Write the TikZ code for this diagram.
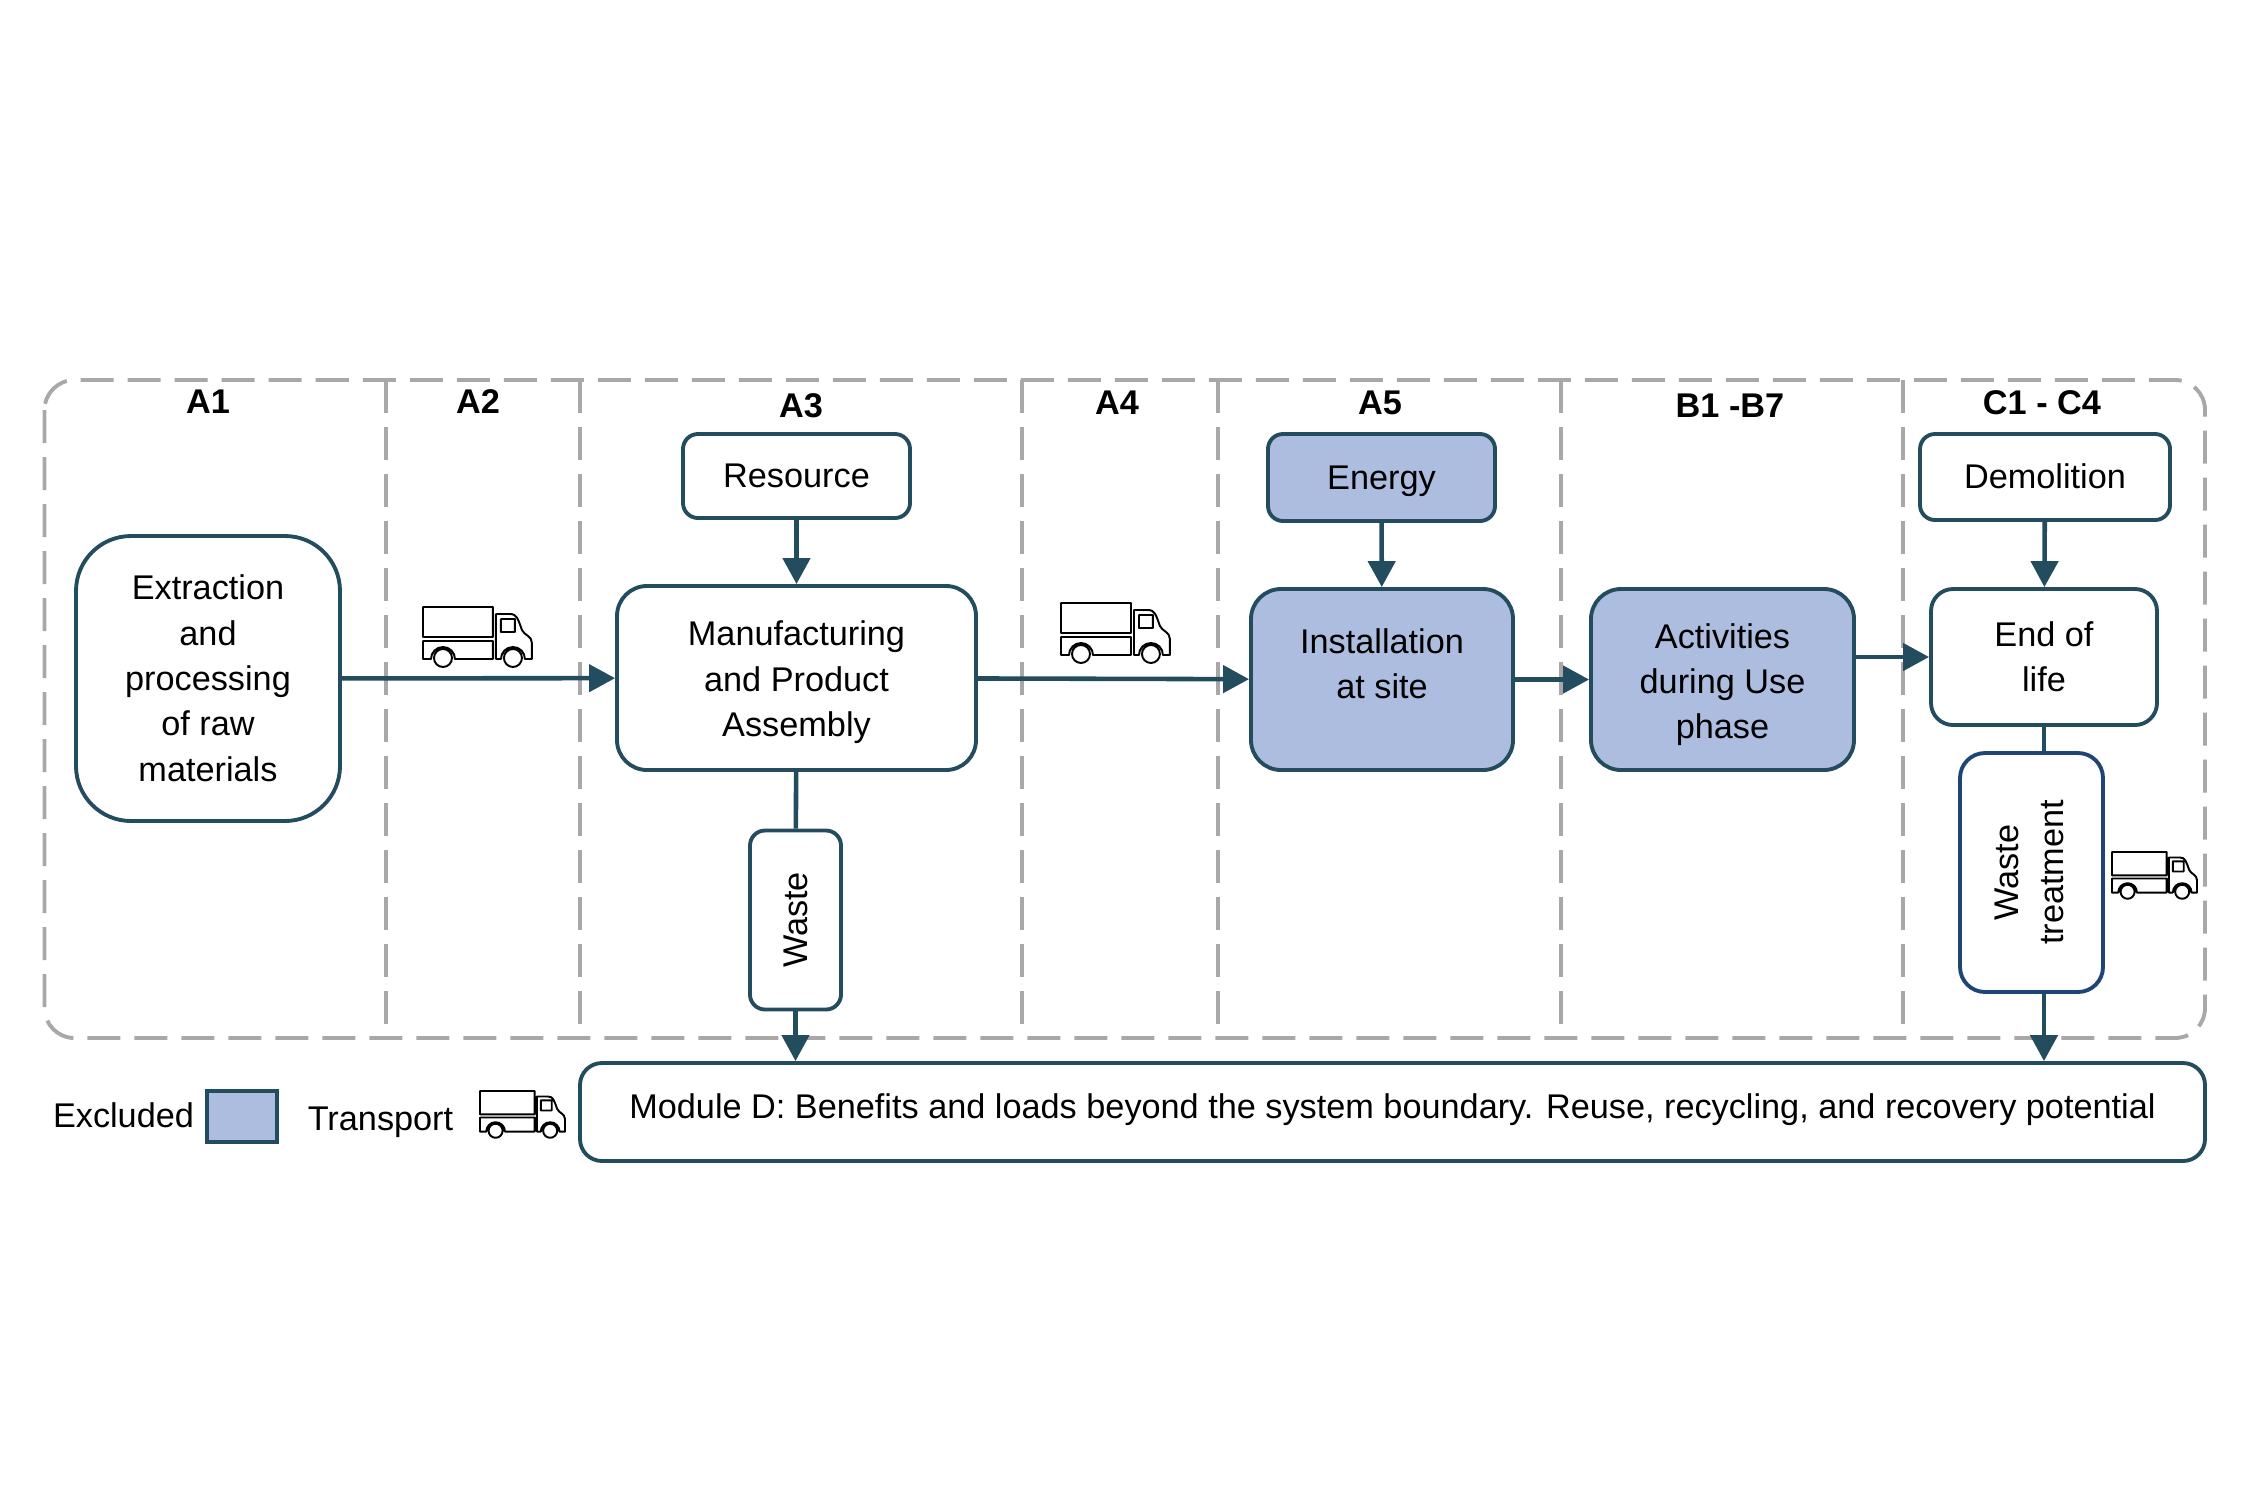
\documentclass[tikz,border=0pt]{standalone}
\usepackage{fontspec}
\setmainfont{Liberation Sans}
\usepackage{tikz}
\usetikzlibrary{arrows.meta}
\definecolor{boxline}{HTML}{234D5E}
\definecolor{wasteline}{HTML}{1F4576}
\definecolor{excl}{HTML}{ADBDE0}
\definecolor{bound}{HTML}{A9A7A7}
\newcommand{\lift}[2]{\raisebox{\dimexpr#1-3.3pt\relax}[0pt][0pt]{\begin{tabular}{@{}c@{}}#2\end{tabular}}}
\tikzstyle{base} = [rectangle, text centered, inner sep=0pt, draw=boxline, line width=1.1pt, font=\fontsize{9.75}{12.9}\selectfont]
\tikzstyle{process} = [base, rounded corners=0.3cm, fill=white]
\tikzstyle{small} = [base, rounded corners=0.15cm, fill=white]
\tikzstyle{excluded} = [process, fill=excl]
\tikzstyle{label} = [font=\fontsize{9.75}{12.9}\selectfont\bfseries]
\tikzstyle{plain} = [font=\fontsize{9.75}{12.9}\selectfont]
\tikzstyle{arrow} = [line width=1.3pt, draw=boxline, -{Triangle[length=0.26cm, width=0.27cm]}]
\tikzstyle{joint} = [line width=1.3pt, draw=boxline]
\tikzstyle{divider} = [line width=1.1pt, draw=bound, dash pattern=on 0.33cm off 0.14cm]
\tikzset{pics/truck/.style={code={
  \draw [line width=0.55pt, line join=round, x=0.01cm, y=-0.01cm]
    (0,0) rectangle (70,30)
    (0,34) -- (70,34) -- (70,52) -- (32,52) arc (0:-180:12) -- (0,52) -- cycle
    (73,52) -- (73,7) -- (87,7) .. controls (94,7) and (95,12) .. (99,23) .. controls (101,28) and (109,29) .. (109,36) -- (109,52) -- (102,52) arc (0:-180:12) -- cycle
    (78,12) rectangle (92,25)
    (20,51) circle (9)
    (90,51) circle (9);
}}}

\begin{document}
\begin{tikzpicture}
\useasboundingbox (0,0) rectangle (22.51,-15);
% system boundary
\draw [divider, rounded corners=0.3cm] (0.445,-3.8) rectangle (22.05,-10.38);
\foreach \x in {3.86,5.8,10.22,12.18,15.61,19.03}
  \draw [divider] (\x,-3.8) -- (\x,-10.28);
% stages
\node (aone) [label] at (2.08,-4.02) {A1};
\node (atwo) [label] at (4.78,-4.02) {A2};
\node (athree) [label] at (8.01,-4.06) {A3};
\node (afour) [label] at (11.17,-4.03) {A4};
\node (afive) [label] at (13.8,-4.03) {A5};
\node (bstage) [label] at (17.3,-4.06) {B1 -B7};
\node (cstage) [label] at (20.42,-4.03) {C1 - C4};
% main row
\node (extract) [process, rounded corners=0.55cm, minimum width=2.64cm, minimum height=2.85cm] at (2.08,-6.785) {\lift{0pt}{Extraction\\and\\processing\\of raw\\materials}};
\node (manuf) [process, minimum width=3.59cm, minimum height=1.84cm] at (7.965,-6.78) {\lift{-0.4pt}{Manufacturing\\and Product\\Assembly}};
\node (install) [excluded, minimum width=2.62cm, minimum height=1.81cm] at (13.82,-6.795) {\lift{4.3pt}{Installation\\at site}};
\node (activity) [excluded, minimum width=2.63cm, minimum height=1.81cm] at (17.225,-6.795) {\lift{-0.6pt}{Activities\\during Use\\phase}};
\node (endlife) [small, rounded corners=0.22cm, minimum width=2.26cm, minimum height=1.36cm] at (20.44,-6.57) {\lift{0pt}{End of\\life}};
% top row
\node (resource) [small, minimum width=2.27cm, minimum height=0.84cm] at (7.965,-4.76) {\lift{0pt}{Resource}};
\node (energy) [small, fill=excl, minimum width=2.27cm, minimum height=0.87cm] at (13.815,-4.775) {\lift{0pt}{Energy}};
\node (demolition) [small, minimum width=2.5cm, minimum height=0.86cm] at (20.45,-4.77) {\lift{0pt}{Demolition}};
% lower boxes
\node (waste) [small, rotate=90, minimum width=1.79cm, minimum height=0.91cm] at (7.955,-9.2) {\lift{0pt}{Waste}};
\node (wastetreat) [process, draw=wasteline, rotate=90, rounded corners=0.25cm, minimum width=2.39cm, minimum height=1.43cm] at (20.315,-8.725) {\lift{0.6pt}{Waste\\treatment}};
\node (moduled) [small, rounded corners=0.22cm, minimum width=16.25cm, minimum height=0.98cm] at (13.925,-11.12) {\lift{1.4pt}{Module D: Benefits and loads beyond the system boundary. Reuse, recycling, and recovery potential}};
% legend
\node (excludedtxt) [plain] at (1.235,-11.155) {Excluded};
\node (excludedbox) [base, fill=excl, minimum width=0.7cm, minimum height=0.51cm] at (2.42,-11.165) {};
\node (transporttxt) [plain] at (3.805,-11.22) {Transport};
% trucks
\pic (truckatwo) at (4.23,-6.07) {truck};
\pic (truckafour) at (10.61,-6.03) {truck};
\pic (truckwaste) [scale=0.78] at (21.12,-8.52) {truck};
\pic (trucklegend) [scale=0.78] at (4.8,-10.91) {truck};
% flows
\draw [arrow] (extract) -- (manuf);
\draw [arrow] (manuf) -- (install);
\draw [arrow] (install) -- (activity);
\draw [arrow] (activity.east |- endlife) -- (endlife);
\draw [arrow] (resource) -- (manuf);
\draw [arrow] (energy) -- (install);
\draw [arrow] (demolition) -- (endlife);
\draw [joint] (manuf) -- (waste);
\draw [arrow] (waste) -- (waste |- moduled.north);
\draw [joint] (endlife.south) -- (endlife.south |- wastetreat.east);
\draw [arrow] (endlife.south |- wastetreat.west) -- (endlife.south |- moduled.north);
\end{tikzpicture}
\end{document}
